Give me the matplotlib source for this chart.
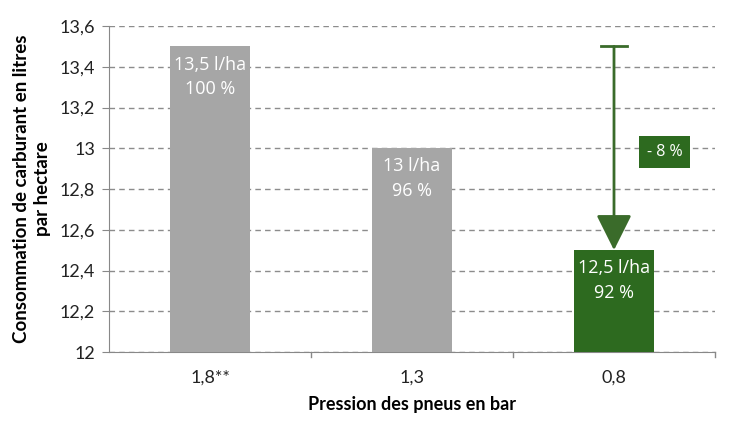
import matplotlib
matplotlib.use("Agg")
import matplotlib.pyplot as plt
from matplotlib.patches import FancyArrowPatch

categories = ["1,8**", "1,3", "0,8"]
values = [13.5, 13.0, 12.5]
labels_l = ["13,5 l/ha", "13 l/ha", "12,5 l/ha"]
labels_pct = ["100 %", "96 %", "92 %"]
colors = ["#A6A6A6", "#A6A6A6", "#2D6A1F"]
yticks = [12, 12.2, 12.4, 12.6, 12.8, 13, 13.2, 13.4, 13.6]
ytick_labels = ["12", "12,2", "12,4", "12,6", "12,8", "13", "13,2", "13,4", "13,6"]
diff_label = "- 8 %"

fig = plt.figure(figsize=(7.35, 4.36), dpi=100)
ax = fig.add_axes([109/735, 1-352/436, (715-109)/735, (352-26)/436])

x = list(range(len(categories)))
ax.bar(x, [v - 12 for v in values], bottom=12, width=0.4, color=colors, zorder=3)
ax.set_xlim(-0.5, 2.5)
ax.set_ylim(12, 13.6)
ax.set_yticks(yticks)
ax.set_yticklabels(ytick_labels, fontsize=13, family="Lato", color="#222222")
ax.set_xticks(x)
ax.set_xticklabels(categories, fontsize=13, family="Lato", color="#222222")
ax.tick_params(axis="x", length=0, pad=13)
ax.tick_params(axis="y", length=5, color="#888888", pad=5)
for b in [0.5, 1.5, 2.5]:
    ax.plot([b, b], [12, 12 - 0.025], color="#888888", lw=1, clip_on=False)
ax.yaxis.grid(True, linestyle=(0, (4, 3)), color="#8c8c8c", lw=1, zorder=0)
for s in ["top", "right"]:
    ax.spines[s].set_visible(False)
ax.spines["left"].set_color("#888888")
ax.spines["bottom"].set_color("#888888")

for i, v in enumerate(values):
    ax.text(i, v - 0.045, labels_l[i], ha="center", va="top", color="white",
            fontsize=13, family="Open Sans")
    ax.text(i, v - 0.165, labels_pct[i], ha="center", va="top", color="white",
            fontsize=13, family="Open Sans")

ax.set_ylabel("Consommation de carburant en litres\npar hectare", fontsize=13.5,
              fontweight="bold", family="Lato", labelpad=6, linespacing=1.3)
ax.set_xlabel("Pression des pneus en bar", fontsize=13, fontweight="bold",
              family="Lato", labelpad=7)

# arrow
ax_x = 2
ax.plot([ax_x - 0.065, ax_x + 0.065], [values[0], values[0]], color="#3A6B2A", lw=2, zorder=4)
arr = FancyArrowPatch((ax_x, values[0]), (ax_x, values[2]), arrowstyle="-|>,head_length=10,head_width=5",
                      mutation_scale=2.2, color="#3A6B2A", lw=2, zorder=4, shrinkA=0, shrinkB=0)
ax.add_patch(arr)
ax.text(ax_x + 0.25, 12.98, diff_label, ha="center", va="center", color="white",
        fontsize=11.5, family="Open Sans", zorder=5,
        bbox=dict(boxstyle="square,pad=0.5", fc="#2D6A1F", ec="none"))

fig.savefig("out.png", dpi=100)
